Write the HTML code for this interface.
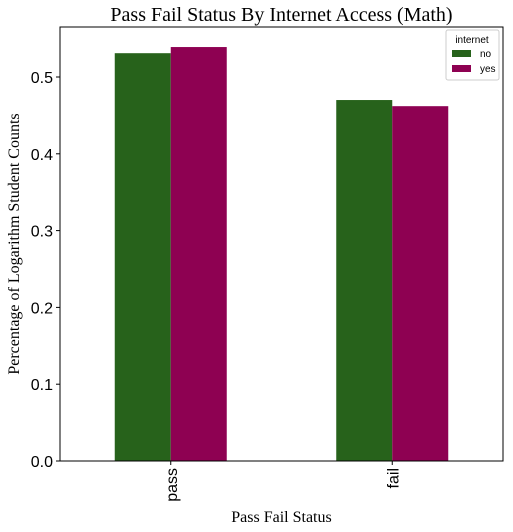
<!DOCTYPE html>
<html><head><meta charset="utf-8"><style>
html,body{margin:0;padding:0;background:#fff;}
svg{display:block;}
</style></head><body>
<svg id="chart" width="513" height="532" xmlns="http://www.w3.org/2000/svg"></svg>
<script>
const categories = ["pass", "fail"];
const seriesNames = ["no", "yes"];
const seriesNo = [0.531, 0.470];
const seriesYes = [0.539, 0.462];
const yTicks = [0.0, 0.1, 0.2, 0.3, 0.4, 0.5];
const colors = ["#27621b", "#8e0152"];

const svg = document.getElementById('chart');
const NS = "http://www.w3.org/2000/svg";
const L = 60, R = 503, T = 27, B = 461;
const yScale = v => B - v * 768;
const groupW = (R - L) / categories.length;
const xCenter = i => L + groupW * (i + 0.5);
const barW = 56;

function mk(tag, attrs, text) {
  const e = document.createElementNS(NS, tag);
  for (const k in attrs) e.setAttribute(k, attrs[k]);
  if (text !== undefined) e.textContent = text;
  svg.appendChild(e);
  return e;
}

const series = [seriesNo, seriesYes];
series.forEach((vals, s) => {
  vals.forEach((v, i) => {
    const x = xCenter(i) - barW + s * barW;
    const r = mk('rect', {x: x, y: yScale(v), width: barW, height: B - yScale(v), fill: colors[s]});
    
    
  });
});

const frame = mk('rect', {x: L, y: T, width: R - L, height: B - T, fill: 'none', stroke: '#000', 'stroke-width': 1});



yTicks.forEach(t => {
  const y = yScale(t);
  const tk = mk('line', {x1: L - 4, x2: L, y1: y, y2: y, stroke: '#000'});
  
  
  const lb = mk('text', {x: L - 7, y: y + 6, 'text-anchor': 'end', 'font-family': 'Liberation Sans, sans-serif', 'font-size': 16}, t.toFixed(1));
  
  
});

categories.forEach((c, i) => {
  const x = xCenter(i);
  const tk = mk('line', {x1: x, x2: x, y1: B, y2: B + 4, stroke: '#000'});
  
  
  const lb = mk('text', {x: x + 6, y: B + 7, 'text-anchor': 'end', transform: 'rotate(-90 ' + (x + 6) + ' ' + (B + 7) + ')', 'font-family': 'Liberation Sans, sans-serif', 'font-size': 16}, c);
  
  
});

const title = mk('text', {x: (L + R) / 2, y: 21, 'text-anchor': 'middle', 'font-family': 'Liberation Serif, serif', 'font-size': 20}, 'Pass Fail Status By Internet Access (Math)');



const xt = mk('text', {x: (L + R) / 2, y: 522, 'text-anchor': 'middle', 'font-family': 'Liberation Serif, serif', 'font-size': 16}, 'Pass Fail Status');



const yt = mk('text', {x: 19, y: (T + B) / 2, 'text-anchor': 'middle', transform: 'rotate(-90 19 ' + ((T + B) / 2) + ')', 'font-family': 'Liberation Serif, serif', 'font-size': 16}, 'Percentage of Logarithm Student Counts');



const lg = mk('rect', {x: 446, y: 30, width: 53, height: 50, rx: 2, fill: '#fff', stroke: '#ccc'});


const lgt = mk('text', {x: 472, y: 43, 'text-anchor': 'middle', 'font-family': 'Liberation Sans, sans-serif', 'font-size': 10}, 'internet');


seriesNames.forEach((n, s) => {
  const y = 50 + s * 15;
  const sw = mk('rect', {x: 452, y: y, width: 19, height: 7, fill: colors[s]});
  
  
  const tx = mk('text', {x: 480, y: y + 7, 'font-family': 'Liberation Sans, sans-serif', 'font-size': 10}, n);
  
  
});
</script>
</body></html>
